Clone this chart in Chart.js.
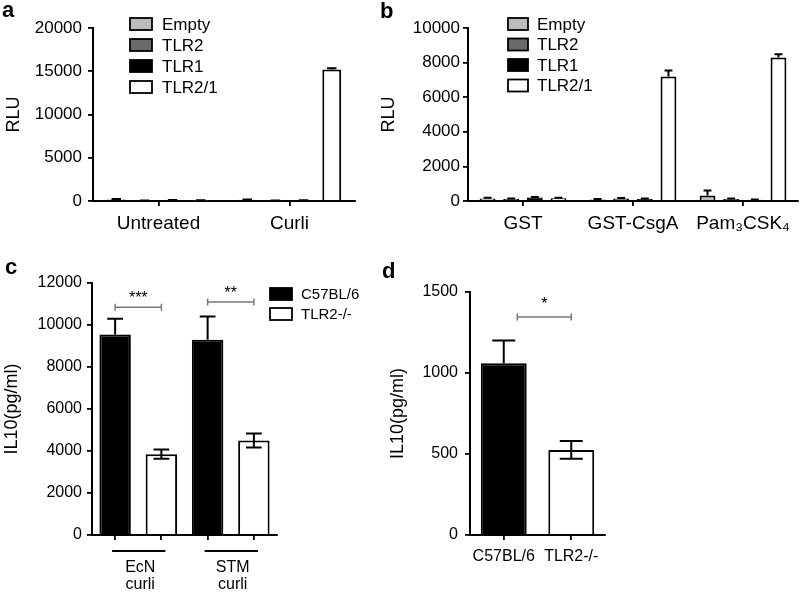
<!DOCTYPE html>
<html>
<head>
<meta charset="utf-8">
<title>TLR2 recognises curli</title>
<script src="https://cdn.jsdelivr.net/npm/chart.js@4.4.1/dist/chart.umd.min.js"></script>
<style>
  body { margin: 0; background: #fff; }
  #wrap { position: relative; width: 800px; height: 596px; overflow: hidden; }
  canvas { position: absolute; }
</style>
</head>
<body>
<div id="wrap">
  <canvas id="chartA" width="375" height="240" style="left:0;top:0"></canvas>
  <canvas id="chartB" width="425" height="240" style="left:375px;top:0"></canvas>
  <canvas id="chartC" width="400" height="356" style="left:0;top:240px"></canvas>
  <canvas id="chartD" width="425" height="356" style="left:375px;top:240px"></canvas>
</div>
<script>
// cell lines used in the reporter assays (a, b)
const cellLines = ["Empty", "TLR2", "TLR1", "TLR2/1"];
const cellColors = ["#bcbcbc", "#6a6a6a", "#000000", "#ffffff"];

// a: untreated vs curli, one row per cell line
const treatA = ["Untreated", "Curli"];
const rluA = [[180, 140], [60, 60], [90, 80], [70, 15200]];
const errA = [[50, 40], [10, 10], [20, 20], [10, 150]];

// b: recombinant proteins
const treatB = ["GST", "GST-CsgA", "Pam₃CSK₄"];
const rluB = [[150, 90, 320], [120, 140, 120], [200, 120, 70], [160, 7200, 8300]];
const errB = [[40, 20, 280], [30, 40, 30], [30, 20, 20], [30, 350, 180]];

// c: IL10 by curli source, one row per strain
const strains = ["C57BL/6", "TLR2-/-"];
const strainColors = ["#000000", "#ffffff"];
const curliC = ["EcN curli", "STM curli"];
const il10C = [[9550, 9300], [3850, 4500]];
const errC = [[750, 1100], [220, 330]];
const sigC = ["***", "**"];
const sigLevelC = [10850, 11100];

// d
const il10D = [1060, 525];
const errD = [140, 55];
const sigD = ["*"];
const sigLevelD = [1345];

const F = "'Liberation Sans', Arial, Helvetica, sans-serif";
const INK = "#000";

const errorBars = {
  id: "errorBars",
  afterDatasetsDraw(chart, args, o) {
    const { ctx } = chart, ys = chart.scales.y;
    ctx.save();
    ctx.strokeStyle = INK;
    ctx.lineWidth = o.lineWidth;
    chart.data.datasets.forEach((ds, i) => {
      chart.getDatasetMeta(i).data.forEach((bar, j) => {
        const v = ds.data[j], e = ds.errors ? ds.errors[j] : null;
        if (v == null || e == null) return;
        // the lower half only shows on light bars
        const down = o.both && bar.options.backgroundColor !== "#000000";
        const top = ys.getPixelForValue(v + e);
        const low = down ? ys.getPixelForValue(v - e) : bar.y;
        const h = bar.width * o.cap / 2;
        ctx.beginPath();
        ctx.moveTo(bar.x, low); ctx.lineTo(bar.x, top);
        ctx.moveTo(bar.x - h, top); ctx.lineTo(bar.x + h, top);
        if (down) { ctx.moveTo(bar.x - h, low); ctx.lineTo(bar.x + h, low); }
        ctx.stroke();
      });
    });
    ctx.restore();
  }
};

const boxLegend = {
  id: "boxLegend",
  afterDraw(chart, args, o) {
    const { ctx } = chart;
    ctx.save();
    ctx.font = `${o.size}px ${F}`;
    ctx.textBaseline = "middle";
    ctx.lineWidth = 1.8;
    chart.data.datasets.forEach((ds, i) => {
      const cy = o.y + i * o.gap;
      ctx.fillStyle = ds.backgroundColor;
      ctx.fillRect(o.x, cy - o.h / 2, o.w, o.h);
      ctx.strokeStyle = INK;
      ctx.strokeRect(o.x, cy - o.h / 2, o.w, o.h);
      ctx.fillStyle = INK;
      ctx.fillText(ds.label, o.x + o.w + o.textGap, cy + 1);
    });
    ctx.restore();
  }
};

const sigBrackets = {
  id: "sigBrackets",
  afterDraw(chart, args, o) {
    const { ctx } = chart, xs = chart.scales.x, ys = chart.scales.y;
    ctx.save();
    o.items.forEach(it => {
      const x1 = xs.getPixelForValue(it.from), x2 = xs.getPixelForValue(it.to);
      const y = ys.getPixelForValue(it.level);
      ctx.strokeStyle = "#7a7a7a";
      ctx.lineWidth = 1.5;
      ctx.beginPath();
      ctx.moveTo(x1, y); ctx.lineTo(x2, y);
      ctx.moveTo(x1, y - 3.5); ctx.lineTo(x1, y + 3.5);
      ctx.moveTo(x2, y - 3.5); ctx.lineTo(x2, y + 3.5);
      ctx.stroke();
      ctx.fillStyle = INK;
      ctx.font = `${o.size}px ${F}`;
      ctx.textAlign = "center";
      ctx.fillText(it.text, (x1 + x2) / 2, y - o.lift);
    });
    ctx.restore();
  }
};

const groupLabels = {
  id: "groupLabels",
  afterDraw(chart, args, o) {
    const { ctx } = chart, xs = chart.scales.x;
    ctx.save();
    ctx.strokeStyle = INK;
    ctx.fillStyle = INK;
    ctx.lineWidth = 1.8;
    ctx.font = `${o.size}px ${F}`;
    ctx.textAlign = "center";
    ctx.textBaseline = "middle";
    o.groups.forEach((g, gi) => {
      const a = xs.getPixelForValue(gi * o.per), b = xs.getPixelForValue(gi * o.per + o.per - 1);
      ctx.beginPath();
      ctx.moveTo(a - 3, o.lineY); ctx.lineTo(b + 4, o.lineY);
      ctx.stroke();
      g.split(" ").forEach((w, k) => ctx.fillText(w, (a + b) / 2 + 2, o.textY + k * o.lineGap));
    });
    ctx.restore();
  }
};

const panelLetter = {
  id: "panelLetter",
  afterDraw(chart, args, o) {
    const { ctx } = chart;
    ctx.save();
    ctx.font = `bold 22px ${F}`;
    ctx.fillStyle = INK;
    ctx.fillText(o.text, o.x, o.y);
    ctx.restore();
  }
};

function yAxis(max, step, width, size, pad, title, titlePad) {
  return {
    min: 0, max: max,
    ticks: { stepSize: step, font: { family: F, size: size }, color: INK, padding: pad, callback: v => String(v) },
    grid: { drawOnChartArea: false, tickLength: 5, color: INK, lineWidth: 1.8 },
    border: { color: INK, width: 2 },
    title: { display: true, text: title, font: { family: F, size: 18 }, color: INK, padding: { top: titlePad, bottom: 0 } },
    afterFit(s) { s.width = width; }
  };
}

function xAxis(height, size, pad, show) {
  return {
    grid: { offset: false, drawOnChartArea: false, tickLength: 5, color: INK, lineWidth: 1.8 },
    border: { color: INK, width: 2 },
    ticks: { display: show, font: { family: F, size: size }, color: INK, padding: pad, maxRotation: 0, autoSkip: false },
    afterFit(s) { s.height = height; }
  };
}

function baseOptions(pad, scales, plugins) {
  return {
    responsive: false,
    animation: false,
    devicePixelRatio: 1,
    layout: { padding: pad },
    scales: scales,
    plugins: Object.assign({ legend: { display: false }, tooltip: { enabled: false } }, plugins)
  };
}

function rluSets(values, errs) {
  return cellLines.map((name, k) => ({
    label: name,
    data: values[k],
    errors: errs[k],
    backgroundColor: cellColors[k],
    borderColor: INK,
    borderWidth: 2,
    categoryPercentage: 0.86,
    barPercentage: 0.67
  }));
}

// a
new Chart(document.getElementById("chartA"), {
  type: "bar",
  data: { labels: treatA, datasets: rluSets(rluA, errA) },
  options: baseOptions({ top: 28, right: 20, left: 0, bottom: 0 },
    { x: xAxis(39, 19, 6, true), y: yAxis(20000, 5000, 93, 17, 6, "RLU", 3) },
    {
      errorBars: { lineWidth: 2, cap: 0.5, both: false },
      boxLegend: { x: 130, y: 24, gap: 21, w: 22, h: 12, size: 17, textGap: 10 },
      panelLetter: { text: "a", x: 2, y: 17 }
    }),
  plugins: [errorBars, boxLegend, panelLetter]
});

// b
new Chart(document.getElementById("chartB"), {
  type: "bar",
  data: { labels: treatB, datasets: rluSets(rluB, errB) },
  options: baseOptions({ top: 28, right: 2, left: 0, bottom: 0 },
    { x: xAxis(39, 19, 6, true), y: yAxis(10000, 2000, 93, 17, 3, "RLU", 3) },
    {
      errorBars: { lineWidth: 2, cap: 0.5, both: false },
      boxLegend: { x: 133, y: 24, gap: 20.5, w: 20, h: 12, size: 17, textGap: 9 },
      panelLetter: { text: "b", x: 5, y: 18 }
    }),
  plugins: [errorBars, boxLegend, panelLetter]
});

// c: one category per bar, two datasets with gaps
const barsC = curliC.flatMap(g => strains.map(s => g + " " + s));
const setsC = strains.map((s, k) => ({
  label: s,
  data: curliC.flatMap((g, gi) => strains.map((t, si) => (si === k ? il10C[k][gi] : null))),
  errors: curliC.flatMap((g, gi) => strains.map((t, si) => (si === k ? errC[k][gi] : null))),
  backgroundColor: strainColors[k],
  borderColor: INK,
  borderWidth: 2,
  categoryPercentage: 1,
  barPercentage: 0.68
}));

new Chart(document.getElementById("chartC"), {
  type: "bar",
  data: { labels: barsC, datasets: setsC },
  options: Object.assign(baseOptions({ top: 43, right: 123, left: 0, bottom: 0 },
    { x: xAxis(61, 16, 6, false), y: yAxis(12000, 2000, 92, 16, 5, "IL10(pg/ml)", 1) },
    {
      errorBars: { lineWidth: 2, cap: 0.5, both: true },
      boxLegend: { x: 270, y: 54, gap: 20, w: 22, h: 12, size: 15, textGap: 9 },
      sigBrackets: { size: 16, lift: 4, items: sigC.map((t, i) => ({ from: i * 2, to: i * 2 + 1, level: sigLevelC[i], text: t })) },
      groupLabels: { groups: curliC, per: strains.length, lineY: 311, textY: 328, lineGap: 17, size: 16 },
      panelLetter: { text: "c", x: 5, y: 34 }
    }), { skipNull: true }),
  plugins: [errorBars, boxLegend, sigBrackets, groupLabels, panelLetter]
});

// d
new Chart(document.getElementById("chartD"), {
  type: "bar",
  data: {
    labels: strains,
    datasets: [{
      label: "IL10",
      data: il10D,
      errors: errD,
      backgroundColor: strainColors,
      borderColor: INK,
      borderWidth: 2,
      categoryPercentage: 1,
      barPercentage: 0.68
    }]
  },
  options: baseOptions({ top: 52, right: 195, left: 0, bottom: 0 },
    { x: xAxis(61, 16, 7, true), y: yAxis(1500, 500, 95, 16, 7, "IL10(pg/ml)", 12) },
    {
      errorBars: { lineWidth: 2, cap: 0.5, both: true },
      sigBrackets: { size: 16, lift: 8, items: sigD.map((t, i) => ({ from: 0.2, to: 1, level: sigLevelD[i], text: t })) },
      panelLetter: { text: "d", x: 7, y: 38 }
    }),
  plugins: [errorBars, sigBrackets, panelLetter]
});
</script>
</body>
</html>
